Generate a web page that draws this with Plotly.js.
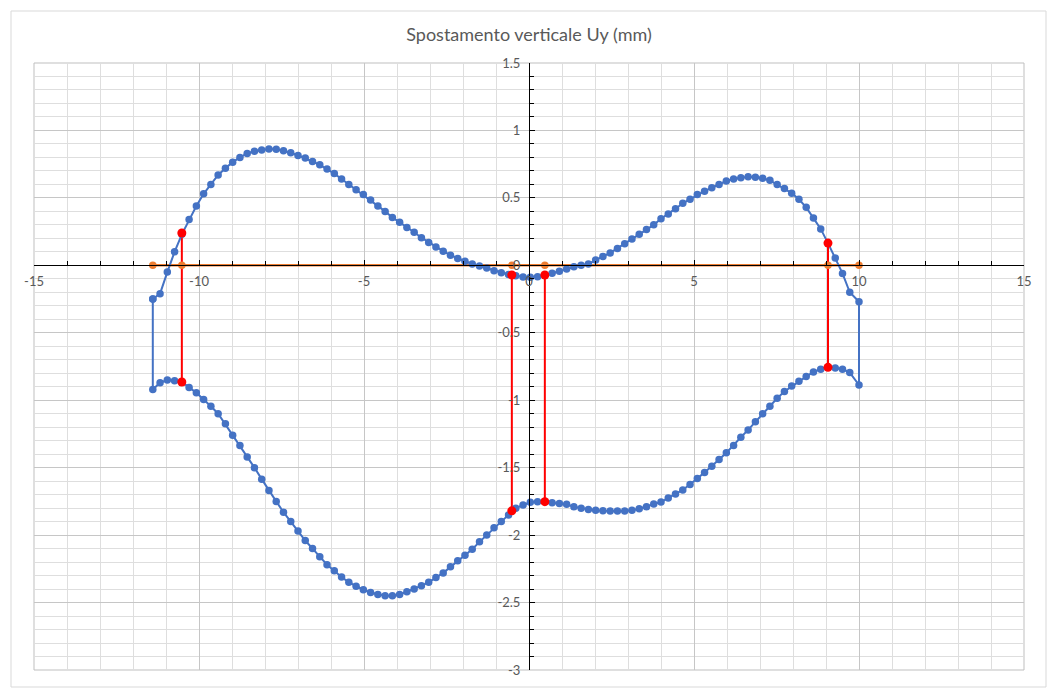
<!DOCTYPE html>
<html>
<head>
<meta charset="utf-8">
<script src="https://cdn.plot.ly/plotly-3.0.1.min.js"></script>
<style>html,body{margin:0;padding:0;background:#fff;}#chart{width:1048px;height:698px;}</style>
</head>
<body>
<div id="chart"></div>
<script>
// Station positions along the beam (m)
const xStations = [-11.40,-11.18,-10.96,-10.74,-10.52,-10.30,-10.08,-9.86,-9.64,-9.42,-9.20,-8.98,-8.76,-8.54,-8.32,-8.10,-7.88,-7.66,-7.44,-7.22,-7.00,-6.78,-6.56,-6.34,-6.12,-5.90,-5.68,-5.46,-5.24,-5.02,-4.80,-4.58,-4.36,-4.14,-3.92,-3.70,-3.48,-3.26,-3.04,-2.82,-2.60,-2.38,-2.16,-1.94,-1.72,-1.50,-1.28,-1.06,-0.84,-0.62,-0.40,-0.18,0.04,0.26,0.48,0.70,0.92,1.14,1.36,1.58,1.80,2.02,2.24,2.46,2.68,2.90,3.12,3.34,3.56,3.78,4.00,4.22,4.44,4.66,4.88,5.10,5.32,5.54,5.76,5.98,6.20,6.42,6.64,6.86,7.08,7.30,7.52,7.74,7.96,8.18,8.40,8.62,8.84,9.06,9.28,9.50,9.72,10.00];
// Upper envelope Uy (mm)
const uyUpper = [-0.25,-0.21,-0.05,0.10,0.23,0.34,0.44,0.53,0.60,0.67,0.72,0.765,0.80,0.83,0.845,0.855,0.862,0.86,0.85,0.835,0.815,0.795,0.77,0.745,0.715,0.68,0.64,0.60,0.56,0.525,0.485,0.44,0.40,0.355,0.32,0.28,0.245,0.205,0.17,0.135,0.105,0.075,0.05,0.03,0.01,-0.005,-0.02,-0.04,-0.055,-0.068,-0.078,-0.086,-0.089,-0.085,-0.073,-0.058,-0.043,-0.028,-0.01,0.0,0.01,0.04,0.066,0.092,0.125,0.16,0.195,0.23,0.265,0.30,0.345,0.38,0.42,0.46,0.49,0.525,0.55,0.575,0.60,0.625,0.64,0.65,0.656,0.653,0.645,0.63,0.60,0.57,0.535,0.49,0.43,0.35,0.27,0.165,0.055,-0.06,-0.20,-0.27];
// Lower envelope Uy (mm)
const uyLower = [-0.92,-0.87,-0.85,-0.855,-0.865,-0.905,-0.945,-0.995,-1.045,-1.10,-1.175,-1.26,-1.335,-1.42,-1.50,-1.585,-1.67,-1.75,-1.83,-1.90,-1.97,-2.04,-2.10,-2.16,-2.22,-2.265,-2.31,-2.35,-2.38,-2.405,-2.425,-2.44,-2.45,-2.45,-2.44,-2.42,-2.40,-2.375,-2.35,-2.315,-2.28,-2.235,-2.19,-2.15,-2.105,-2.05,-2.0,-1.945,-1.90,-1.85,-1.80,-1.777,-1.757,-1.752,-1.752,-1.76,-1.765,-1.772,-1.79,-1.80,-1.81,-1.815,-1.82,-1.822,-1.822,-1.822,-1.815,-1.805,-1.79,-1.77,-1.755,-1.725,-1.695,-1.665,-1.625,-1.58,-1.535,-1.49,-1.44,-1.39,-1.335,-1.275,-1.22,-1.16,-1.10,-1.045,-0.985,-0.935,-0.895,-0.86,-0.825,-0.79,-0.77,-0.756,-0.762,-0.77,-0.795,-0.887];
// Beam axis with supports
const beamX = [-11.4,-10.52,-0.52,0.48,9.06,10.0];
const beamY = [0,0,0,0,0,0];
// Supports: envelope values at support sections
const supportX = [-10.52,-0.52,0.48,9.06];
const supportTop = [0.24,-0.072,-0.072,0.165];
const supportBottom = [-0.865,-1.82,-1.752,-0.756];
// Tick labels
const xTickVals = [-15,-10,-5,0,5,10,15];
const xTickText = ['-15','-10','-5','0','5','10','15'];
const yTickVals = [1.5,1,0.5,0,-0.5,-1,-1.5,-2,-2.5,-3];
const yTickText = ['1.5','1','0.5','0','-0.5','-1','-1.5','-2','-2.5','-3'];

// build closed loop: upper left->right, lower right->left, close
const loopX = xStations.concat(xStations.slice().reverse(), [xStations[0]]);
const loopY = uyUpper.concat(uyLower.slice().reverse(), [uyUpper[0]]);

const supLX = [], supLY = [], supMX = [], supMY = [];
for (let i = 0; i < supportX.length; i++) {
  supLX.push(supportX[i], supportX[i], null);
  supLY.push(supportTop[i], supportBottom[i], null);
  supMX.push(supportX[i], supportX[i]);
  supMY.push(supportTop[i], supportBottom[i]);
}

const blue = '#4472C4', orange = '#ED7D31', red = '#FF0000';
const traces = [
  {x: supLX, y: supLY, mode: 'lines', line: {color: red, width: 2}, hoverinfo: 'skip', showlegend: false},
  {x: beamX, y: beamY, mode: 'lines+markers', line: {color: orange, width: 2.5}, marker: {color: orange, size: 7.5}, showlegend: false},
  {x: loopX, y: loopY, mode: 'lines+markers', line: {color: blue, width: 2}, marker: {color: blue, size: 7.5}, showlegend: false},
  {x: supMX, y: supMY, mode: 'markers', marker: {color: red, size: 9}, showlegend: false}
];

const tickFont = {family: 'Lato, "Open Sans", sans-serif', size: 13, color: '#595959'};
const layout = {
  width: 1048, height: 698,
  margin: {l: 34, r: 24, t: 63, b: 28, pad: 0},
  paper_bgcolor: '#ffffff', plot_bgcolor: '#ffffff',
  showlegend: false,
  title: {text: 'Spostamento verticale Uy (mm)', x: 0.5, xref: 'paper', xanchor: 'center', y: 1 - 35/698, yref: 'container', yanchor: 'middle', font: {family: 'Lato, "Open Sans", sans-serif', size: 18, color: '#595959'}},
  xaxis: {
    range: [-15, 15], anchor: 'free', position: 3/4.5, side: 'bottom',
    tickmode: 'array', tickvals: xTickVals, ticktext: xTickText,
    ticks: 'inside', ticklen: 5, tickcolor: '#000', tickfont: tickFont, ticklabelstandoff: 4,
    showline: true, linecolor: '#000', linewidth: 1,
    showgrid: true, gridcolor: '#c6c6c6', gridwidth: 1, zeroline: false,
    minor: {tickmode: 'linear', tick0: 0, dtick: 1, ticks: 'inside', ticklen: 4, tickcolor: '#000', showgrid: true, gridcolor: '#dedede', gridwidth: 1},
    fixedrange: true
  },
  yaxis: {
    range: [-3, 1.5], anchor: 'free', position: 0.5, side: 'left',
    tickmode: 'array', tickvals: yTickVals, ticktext: yTickText,
    ticks: 'inside', ticklen: 5, tickcolor: '#000', tickfont: tickFont, ticklabelstandoff: 6,
    showline: true, linecolor: '#000', linewidth: 1,
    showgrid: true, gridcolor: '#c6c6c6', gridwidth: 1, zeroline: false,
    minor: {tickmode: 'linear', tick0: 0, dtick: 0.1, ticks: 'inside', ticklen: 4, tickcolor: '#000', showgrid: true, gridcolor: '#dedede', gridwidth: 1},
    fixedrange: true
  },
  shapes: [
    {type: 'rect', xref: 'paper', yref: 'paper', x0: 0, x1: 1, y0: 0, y1: 1, line: {color: '#bfbfbf', width: 1}, layer: 'below'},
    {type: 'rect', xref: 'paper', yref: 'paper', x0: (11-34)/990, x1: (1046-34)/990, y0: (670-687)/607, y1: (670-11)/607, line: {color: '#d9d9d9', width: 1}, layer: 'below'}
  ]
};
Plotly.newPlot('chart', traces, layout, {displayModeBar: false, staticPlot: true});
</script>
</body>
</html>
